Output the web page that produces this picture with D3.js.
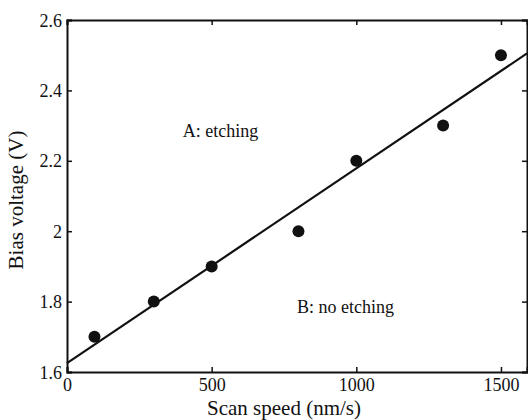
<!DOCTYPE html>
<html>
<head>
<meta charset="utf-8">
<script src="https://cdn.jsdelivr.net/npm/d3@7/dist/d3.min.js"></script>
<style>
  html, body { margin: 0; padding: 0; background: #fff; }
  text { font-family: "Liberation Serif", "DejaVu Serif", serif; fill: #111; }
</style>
</head>
<body>
<svg id="chart" width="528" height="420"></svg>
<script>
// Data
const scanSpeed = [95, 300, 500, 800, 1000, 1300, 1500];      // nm/s
const biasVoltage = [1.7, 1.8, 1.9, 2.0, 2.2, 2.3, 2.5];      // V
const fitX = [0, 1590];
const fitY = [1.625, 2.505];
const xTicks = [0, 500, 1000, 1500];
const yTicks = [1.6, 1.8, 2.0, 2.2, 2.4, 2.6];
const xDomain = [0, 1590];
const yDomain = [1.6, 2.6];
const annotations = [
  { text: "A: etching", x: 400, y: 2.268 },
  { text: "B: no etching", x: 795, y: 1.768 }
];

const svg = d3.select("#chart");
const margin = { left: 67, top: 20, right: 1, bottom: 48 };
const W = 528, H = 420;
const x = d3.scaleLinear().domain(xDomain).range([margin.left, W - margin.right]);
const y = d3.scaleLinear().domain(yDomain).range([H - margin.bottom, margin.top]);

const fmtY = d => (d === 2 ? "2" : d3.format(".1f")(d));

// Bottom axis (ticks inward)
const gB = svg.append("g").attr("transform", `translate(0,${y(yDomain[0])})`)
  .call(d3.axisBottom(x).tickValues(xTicks).tickSize(-5).tickPadding(6).tickFormat(d3.format("d")));
// Left axis
const gL = svg.append("g").attr("transform", `translate(${x(xDomain[0])},0)`)
  .call(d3.axisLeft(y).tickValues(yTicks).tickSize(-5).tickPadding(5).tickFormat(fmtY));
// Top axis (mirrored ticks, no labels)
const gT = svg.append("g").attr("transform", `translate(0,${y(yDomain[1])})`)
  .call(d3.axisTop(x).tickValues(xTicks).tickSize(-5).tickFormat(""));
// Right axis
const gR = svg.append("g").attr("transform", `translate(${x(xDomain[1])},0)`)
  .call(d3.axisRight(y).tickValues(yTicks).tickSize(-5).tickFormat(""));

[gB, gL, gT, gR].forEach(g => {
  g.select(".domain").attr("stroke", "#111").attr("stroke-width", 2);
  g.selectAll(".tick line").attr("stroke", "#111").attr("stroke-width", 1.5);
  g.selectAll(".tick text").attr("font-family", "Liberation Serif").attr("font-size", 18).attr("fill", "#111");
});
gL.selectAll(".tick text").attr("dy", "0.34em");
gB.selectAll(".tick text").attr("dy", "0.71em");

// Fit line
const line = d3.line().x(d => x(d[0])).y(d => y(d[1]));
svg.append("path")
  .datum(fitX.map((v, i) => [v, fitY[i]]))
  .attr("d", line)
  .attr("fill", "none")
  .attr("stroke", "#111")
  .attr("stroke-width", 2.2);

// Points
svg.selectAll("circle.pt")
  .data(scanSpeed.map((v, i) => [v, biasVoltage[i]]))
  .join("circle")
  .attr("class", "pt")
  .attr("cx", d => x(d[0]))
  .attr("cy", d => y(d[1]))
  .attr("r", 6)
  .attr("fill", "#111");

// Annotations
svg.selectAll("text.ann")
  .data(annotations)
  .join("text")
  .attr("class", "ann")
  .attr("x", d => x(d.x))
  .attr("y", d => y(d.y))
  .attr("font-size", 18)
  .text(d => d.text);

// Axis titles
svg.append("text")
  .attr("x", 284)
  .attr("y", 415)
  .attr("text-anchor", "middle")
  .attr("font-size", 21)
  .text("Scan speed (nm/s)");

svg.append("text")
  .attr("transform", "translate(23,200) rotate(-90)")
  .attr("text-anchor", "middle")
  .attr("font-size", 21)
  .text("Bias voltage (V)");
</script>
</body>
</html>
